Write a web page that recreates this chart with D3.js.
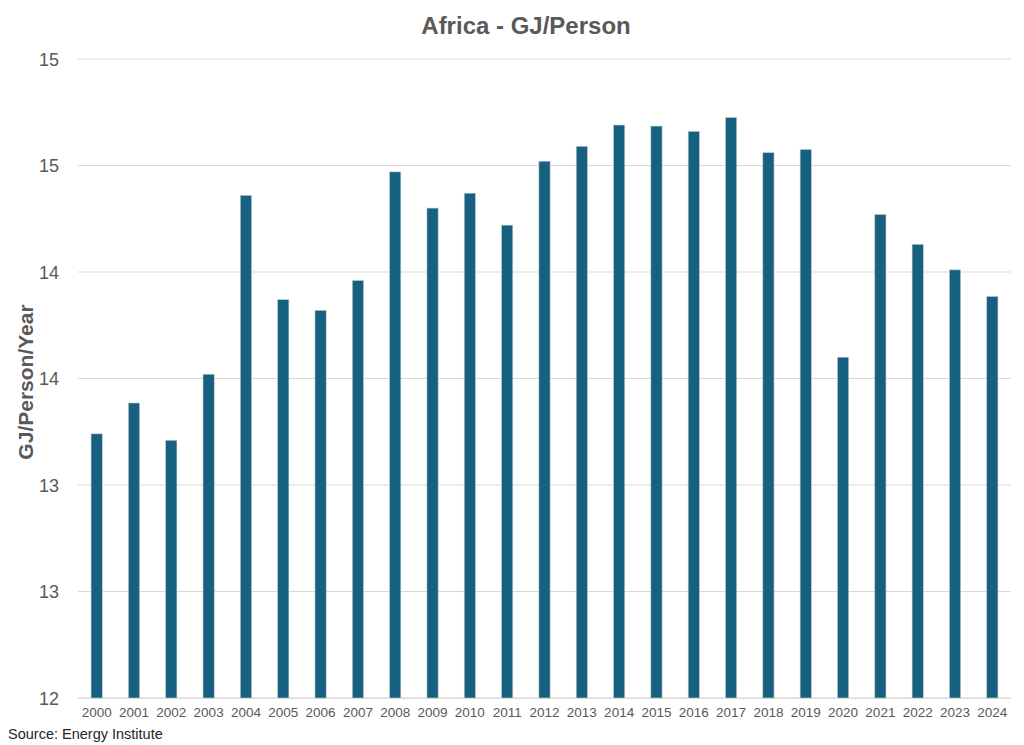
<!DOCTYPE html>
<html>
<head>
<meta charset="utf-8">
<script src="https://cdn.jsdelivr.net/npm/d3@7"></script>
<style>
body { margin: 0; background: #fff; }
text { font-family: "Liberation Sans", Arial, sans-serif; }
</style>
</head>
<body>
<div id="chart"></div>
<script>
// data
var years = ["2000","2001","2002","2003","2004","2005","2006","2007","2008","2009","2010","2011","2012",
	"2013","2014","2015","2016","2017","2018","2019","2020","2021","2022","2023","2024"];
var gjPerPerson = [13.24, 13.385, 13.21, 13.52, 14.36, 13.87, 13.82, 13.96, 14.47, 14.30, 14.37, 14.22, 14.52,
	14.59, 14.69, 14.685, 14.66, 14.725, 14.56, 14.575, 13.60, 14.27, 14.13, 14.01, 13.885];
var yTicks = [12, 12.5, 13, 13.5, 14, 14.5, 15];

var width = 1024, height = 745;
var margin = {top: 59, right: 13, bottom: 47, left: 78};

var svg = d3.select("#chart")
	.append("svg")
	.attr("width", width)
	.attr("height", height);

var x = d3.scaleBand()
	.domain(years)
	.range([margin.left, width - margin.right])
	.paddingInner(0.7)
	.paddingOuter(0.35);

var y = d3.scaleLinear()
	.domain([12, 15])
	.range([height - margin.bottom, margin.top]);

// gridlines
svg.append("g")
	.selectAll("line")
	.data(yTicks)
	.enter().append("line")
	.attr("x1", margin.left)
	.attr("x2", width - margin.right)
	.attr("y1", function (d) { return y(d); })
	.attr("y2", function (d) { return y(d); })
	.style("stroke", "#d9d9d9")
	.style("stroke-width", 1);

// y axis labels (Excel style rounding to whole numbers)
var yAxis = svg.append("g")
	.attr("transform", "translate(" + (margin.left - 16) + ",0)")
	.call(d3.axisLeft(y).tickValues(yTicks).tickSize(0)
		.tickFormat(function (d) { return Math.round(d); }));
yAxis.select(".domain").remove();
yAxis.selectAll("text")
	.style("font-size", "18px")
	.style("fill", "#595959")
	.attr("dy", "0.35em");

// bars
svg.append("g")
	.selectAll("rect")
	.data(gjPerPerson)
	.enter().append("rect")
	.attr("x", function (d, i) { return x(years[i]); })
	.attr("y", function (d) { return y(d); })
	.attr("width", x.bandwidth())
	.attr("height", function (d) { return y(12) - y(d); })
	.style("fill", "#17607f")
	.style("stroke", "#b7cad5")
	.style("stroke-width", 0.6);

// x axis
var xAxis = svg.append("g")
	.attr("transform", "translate(0," + (height - margin.bottom) + ")")
	.call(d3.axisBottom(x).tickSize(0).tickPadding(9));
xAxis.select(".domain").style("stroke", "#d9d9d9");
xAxis.selectAll("text")
	.style("font-size", "13.5px")
	.style("fill", "#595959");

// title
svg.append("text")
	.attr("x", 526)
	.attr("y", 34)
	.attr("text-anchor", "middle")
	.style("font-size", "24px")
	.style("font-weight", "bold")
	.style("fill", "#595959")
	.text("Africa - GJ/Person");

// y axis title
svg.append("text")
	.attr("transform", "translate(33,382) rotate(-90)")
	.attr("text-anchor", "middle")
	.style("font-size", "21px")
	.style("font-weight", "bold")
	.style("fill", "#595959")
	.text("GJ/Person/Year");

// source
svg.append("text")
	.attr("x", 8)
	.attr("y", 739)
	.style("font-size", "14.5px")
	.style("fill", "#262626")
	.text("Source: Energy Institute");
</script>
</body>
</html>
